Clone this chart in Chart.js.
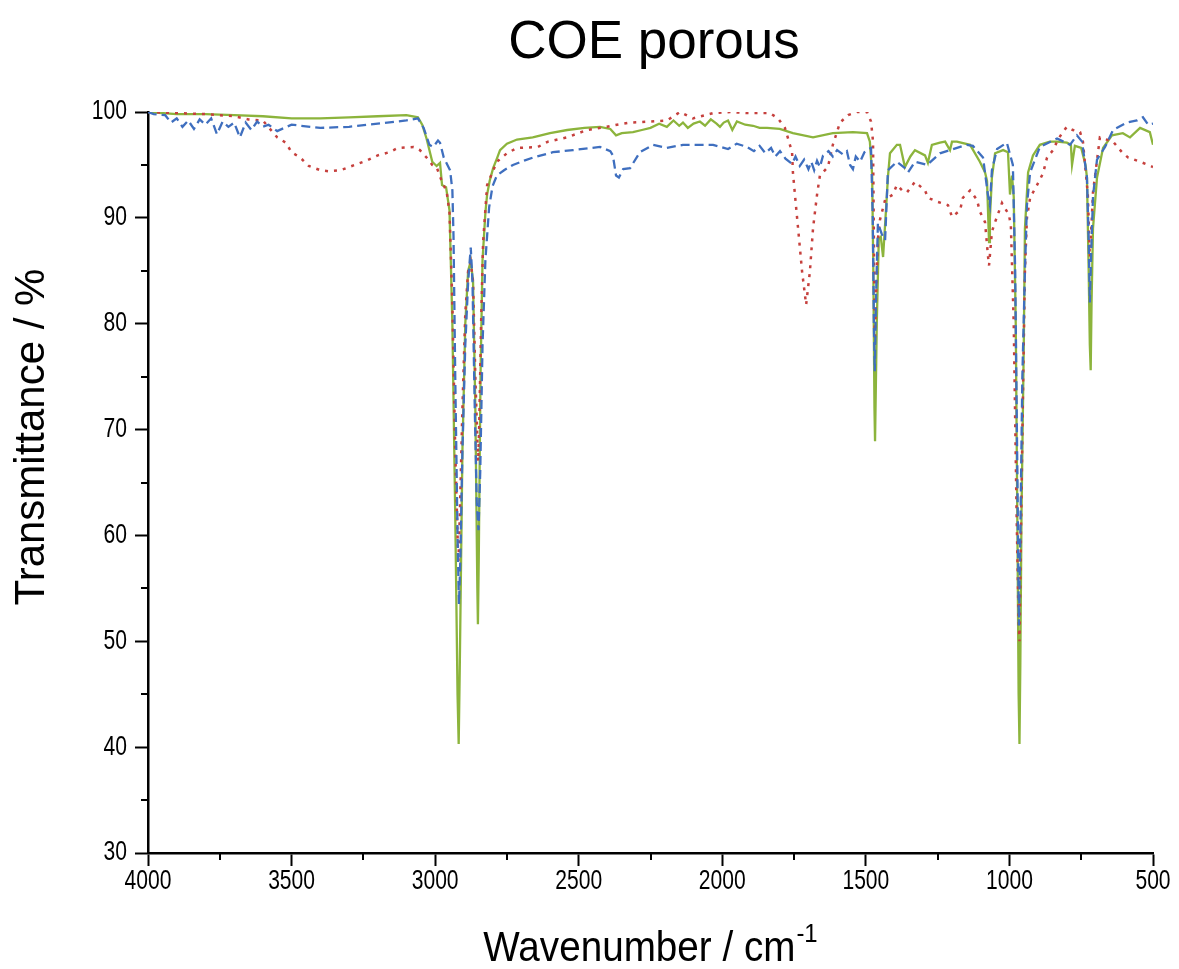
<!DOCTYPE html>
<html>
<head>
<meta charset="utf-8">
<title>COE porous</title>
<script src="https://cdn.jsdelivr.net/npm/chart.js@4.4.1/dist/chart.umd.min.js"></script>
<style>
  html, body { margin: 0; padding: 0; background: #fff; }
  #wrap { width: 1179px; height: 969px; }
</style>
</head>
<body>
<div id="wrap"><canvas id="ir" width="1179" height="969"></canvas></div>
<script>
// ── axis ticks ──
const xMajor = [4000, 3500, 3000, 2500, 2000, 1500, 1000, 500];
const xMinor = [3750, 3250, 2750, 2250, 1750, 1250, 750];
const yMajor = [30, 40, 50, 60, 70, 80, 90, 100];
const yMinor = [35, 45, 55, 65, 75, 85, 95];

// ── green (solid) ──
const greenWn = [4000,3950,3900,3800,3700,3600,3500,3400,3300,3200,3100,3060,3045,3030,3010,2995,2983,2976,2962,2950,
  2940,2930,2922,2918,2914,2905,2895,2885,2876,2868,2860,2853,2851,2848,2842,2835,2825,2819,2810,2798,2785,2774,2750,
  2715,2660,2600,2540,2480,2426,2390,2370,2350,
  2311,2280,2250,2220,2193,2170,2150,2137,2120,2100,2078,2060,2040,2020,2008,1995,1980,1965,1949,1920,1893,1870,1844,
  1800,1754,1684,1615,1545,1496,1486,1478,1474,1470,1468,1462,1455,1448,1440,1430,1423,1416,1392,1381,1364,1345,1329,
  1294,1284,1270,1242,1224,1207,1200,1183,1137,1103,1085,1078,1072,1071,1068,1061,1050,1022,1005,998,991,985,978,972,
  968,965,962,958,950,946,935,918,894,859,834,800,786,782,772,750,735,730,724,720,717,714,709,695,674,643,605,580,545,511,500];
const greenT = [100.0,99.9,99.8,99.8,99.7,99.6,99.4,99.4,99.5,99.6,99.7,99.5,98.8,97.5,95.3,94.9,95.2,93.1,92.9,90.7,
  80.0,62.0,45.0,40.3,48.0,68.0,80.0,85.0,85.9,84.0,72.0,55.0,51.6,58.0,75.0,86.0,90.5,92.2,93.5,94.7,95.6,96.4,97.0,
  97.4,97.6,98.0,98.3,98.5,98.6,98.4,97.8,98.0,
  98.1,98.3,98.5,98.9,98.6,99.2,98.7,99.0,98.5,98.9,99.1,98.7,99.3,98.9,98.6,99.0,99.2,98.3,99.1,98.8,98.7,98.5,98.5,
  98.4,98.0,97.6,98.0,98.1,98.0,97.2,94.0,85.0,72.0,68.9,80.0,88.0,88.2,86.3,90.7,93.9,96.1,96.9,96.9,94.8,95.8,96.4,
  95.9,95.2,96.9,97.1,97.2,96.4,97.2,97.2,96.9,95.3,94.3,93.5,88.5,87.7,90.0,93.8,96.1,96.4,96.2,92.2,94.0,92.0,80.0,60.0,
  45.0,40.3,48.0,62.0,78.0,89.0,94.3,95.9,96.9,97.2,97.2,97.1,96.9,95.0,96.8,96.6,95.0,93.8,85.0,78.0,75.6,82.0,89.0,93.8,
  96.6,97.8,98.0,97.6,98.5,98.1,96.9];

// ── blue (dashed) ──
const blueWn = [4000,3980,3940,3920,3900,3880,3860,3840,3820,3800,3780,3760,3740,3720,3700,3680,3660,3640,3620,3600,
  3580,3550,3500,3400,3300,3200,3100,3060,3040,3020,3007,2990,2983,2970,2948,2940,2936,2930,2922,2917,2912,2905,2895,
  2885,2876,2870,2862,2855,2849,2843,2835,2825,2812,2800,2785,2760,2729,2690,2659,2590,2520,2426,2390,2381,2370,2360,
  2345,2321,2287,2241,2193,2137,2078,2032,
  1980,1950,1914,1890,1870,1850,1830,1815,1799,1780,1757,1745,1730,1715,1700,1690,1680,1670,1660,1649,1630,1615,1600,
  1580,1566,1555,1545,1535,1520,1505,1490,1482,1476,
  1472,1469,1465,1458,1445,1433,1423,1392,1364,1353,1329,1287,1242,1207,1148,1127,1092,1075,1068,1061,1043,1009,988,
  980,972,967,962,955,946,939,928,894,834,789,765,747,730,724,720,716,709,695,667,639,591,556,535,517,500];
const blueT = [100.0,99.8,99.7,99.0,99.4,98.6,99.2,98.4,99.3,98.8,99.4,97.9,99.1,98.6,99.0,97.6,99.0,98.3,99.1,98.6,
  98.8,98.2,98.8,98.5,98.6,98.9,99.2,99.4,98.5,96.9,96.7,97.3,97.1,95.7,94.5,92.6,88.2,75.0,60.0,53.5,58.0,68.0,78.0,
  84.0,87.2,84.0,72.0,63.0,60.5,66.0,78.0,86.0,91.0,93.0,94.0,94.5,95.0,95.4,95.7,96.2,96.4,96.7,96.3,95.9,94.0,93.8,
  94.6,94.7,96.2,96.9,96.6,96.9,96.9,96.9,
  96.5,97.0,96.7,96.3,96.8,96.1,96.6,95.8,96.3,95.6,95.1,95.8,94.9,95.5,94.6,95.3,94.5,95.4,94.8,95.9,96.3,95.8,96.4,
  96.0,96.3,95.0,94.6,95.8,95.3,96.2,96.5,96.6,90.0,
  80.0,75.5,82.0,89.5,88.5,87.9,94.5,95.3,94.7,94.3,95.3,95.0,96.1,96.4,96.9,96.8,95.7,92.2,91.2,94.5,96.5,97.1,95.0,
  85.0,65.0,51.5,60.0,75.0,85.0,91.2,94.3,96.7,97.5,96.9,97.8,97.2,93.8,88.0,82.0,86.0,92.0,95.5,96.7,98.3,99.0,99.2,
  99.5,98.8,98.9];

// ── red (dotted) ──
const redWn = [4000,3900,3800,3700,3650,3600,3550,3520,3500,3470,3440,3400,3370,3330,3300,3270,3240,3200,3160,3130,
  3075,3053,3030,3010,2995,2976,2960,2950,2940,2930,2922,2919,2914,2905,2895,2885,2876,2868,2860,2853,2850,2846,2840,
  2833,2819,2785,2750,2715,2642,2607,2541,2471,2402,2367,2321,2252,2193,2147,2102,2032,1973,1914,1834,1806,1782,1771,
  1757,1754,1747,1736,1722,1708,1695,1684,1670,1660,1632,1615,1590,1562,1531,1496,1482,1475,1472,1469,1465,1458,1451,
  1433,1406,1392,1374,1357,1329,1294,1284,1249,1214,1200,1172,1162,1137,1113,1103,1085,1075,1071,1061,1050,1026,1002,
  995,985,975,968,965,960,952,946,939,928,904,883,869,848,831,814,800,779,754,744,727,720,713,709,685,639,608,587,545,517,500];
const redT = [100.0,99.9,99.8,99.6,99.3,99.2,97.6,97.1,96.2,95.7,94.9,94.5,94.4,94.5,94.8,95.1,95.4,95.9,96.2,96.6,
  96.7,96.4,95.7,95.0,94.8,93.4,92.5,90.5,82.0,68.0,60.0,57.5,62.0,72.0,81.0,85.0,85.8,84.0,75.0,69.0,67.0,71.0,80.0,
  87.7,93.1,95.3,96.1,96.6,96.7,97.2,97.6,98.3,98.6,98.8,99.0,99.1,99.2,100.0,99.4,99.9,100.0,99.9,99.9,99.4,98.5,97.5,
  96.2,94.3,92.2,89.0,84.9,81.8,84.9,89.0,92.2,94.0,94.8,96.9,99.0,99.7,100.0,100.0,99.1,97.2,88.0,78.0,82.0,88.0,89.8,
  91.7,92.2,93.1,92.6,92.4,93.4,92.6,91.9,91.5,91.2,90.1,90.7,91.9,92.6,91.7,90.6,89.6,86.5,85.5,88.7,89.6,91.4,90.3,
  89.3,80.0,62.0,52.0,50.0,60.0,75.0,85.0,90.0,91.9,93.1,94.2,95.7,96.4,97.4,98.1,98.6,98.3,98.1,97.2,92.2,86.3,90.0,
  92.4,97.6,97.2,96.2,95.7,95.3,95.0,94.8];

const toPoints = (wn, t) => wn.map((x, i) => ({ x, y: t[i] }));

const FONT = '"Liberation Sans", Arial, Helvetica, sans-serif';

// draw text squeezed horizontally (the source figure uses narrow glyphs)
function squeezed(ctx, txt, x, y, sx) {
  ctx.save();
  ctx.translate(x, y);
  ctx.scale(sx, 1);
  ctx.fillText(txt, 0, 0);
  ctx.restore();
}

// text, minor ticks: drawn after the chart using the library's scales
const decorPlugin = {
  id: 'decor',
  afterDraw(chart) {
    const { ctx, chartArea: a } = chart;
    const xs = chart.scales.x, ys = chart.scales.y;
    ctx.save();
    ctx.strokeStyle = '#000';
    ctx.lineWidth = 2;
    // minor ticks
    xMinor.forEach(v => {
      const px = Math.round(xs.getPixelForValue(v));
      ctx.beginPath(); ctx.moveTo(px, a.bottom); ctx.lineTo(px, a.bottom + 7); ctx.stroke();
    });
    yMinor.forEach(v => {
      const py = Math.round(ys.getPixelForValue(v));
      ctx.beginPath(); ctx.moveTo(a.left - 7, py); ctx.lineTo(a.left, py); ctx.stroke();
    });

    ctx.fillStyle = '#000';
    // tick labels
    ctx.font = '27px ' + FONT;
    ctx.textAlign = 'center'; ctx.textBaseline = 'middle';
    xMajor.forEach(v => squeezed(ctx, String(v), xs.getPixelForValue(v), a.bottom + 29, 0.78));
    ctx.textAlign = 'right';
    yMajor.forEach(v => squeezed(ctx, String(v), a.left - 21, ys.getPixelForValue(v), 0.78));

    // title
    ctx.font = '53px ' + FONT;
    ctx.textAlign = 'center'; ctx.textBaseline = 'alphabetic';
    ctx.fillText('COE porous', 654, 58);

    // x title with superscript
    const sx = 0.92;
    ctx.font = '42px ' + FONT;
    const main = 'Wavenumber / cm';
    const wMain = ctx.measureText(main).width * sx;
    ctx.font = '26px ' + FONT;
    const sup = '-1';
    const wSup = ctx.measureText(sup).width * sx;
    const x0 = 650 - (wMain + wSup) / 2;
    ctx.textAlign = 'left';
    ctx.font = '42px ' + FONT;
    squeezed(ctx, main, x0, 961, sx);
    ctx.font = '26px ' + FONT;
    squeezed(ctx, sup, x0 + wMain + 1, 942, sx);

    // y title
    ctx.translate(32, 437);
    ctx.rotate(-Math.PI / 2);
    ctx.font = '42px ' + FONT;
    ctx.textAlign = 'center'; ctx.textBaseline = 'middle';
    ctx.fillText('Transmittance / %', 0, 0);
    ctx.restore();
  }
};

new Chart(document.getElementById('ir'), {
  type: 'line',
  data: {
    datasets: [
      { label: 'blue', data: toPoints(blueWn, blueT), borderColor: '#3f6fbf', borderWidth: 2.3,
        borderDash: [9, 5], pointRadius: 0, tension: 0 },
      { label: 'red', data: toPoints(redWn, redT), borderColor: '#c6403d', borderWidth: 2.5,
        borderDash: [3, 6], pointRadius: 0, tension: 0 },
      { label: 'green', data: toPoints(greenWn, greenT), borderColor: '#8cb43c', borderWidth: 2.3,
        pointRadius: 0, tension: 0 }
    ]
  },
  options: {
    responsive: false,
    animation: false,
    devicePixelRatio: 1,
    layout: { padding: { left: 0, right: 26, top: 112, bottom: 0 } },
    plugins: { legend: { display: false }, tooltip: { enabled: false }, title: { display: false } },
    scales: {
      x: {
        type: 'linear', reverse: true, min: 500, max: 4000,
        ticks: { display: false, stepSize: 500 },
        grid: { drawOnChartArea: false, drawTicks: true, tickLength: 13, tickWidth: 2, tickColor: '#000' },
        border: { display: true, color: '#000', width: 2.5 },
        afterFit: s => { s.height = 116; }
      },
      y: {
        type: 'linear', min: 30, max: 100,
        ticks: { display: false, stepSize: 10 },
        grid: { drawOnChartArea: false, drawTicks: true, tickLength: 13, tickWidth: 2, tickColor: '#000' },
        border: { display: true, color: '#000', width: 2.5 },
        afterFit: s => { s.width = 148; }
      }
    }
  },
  plugins: [decorPlugin]
});
</script>
</body>
</html>
